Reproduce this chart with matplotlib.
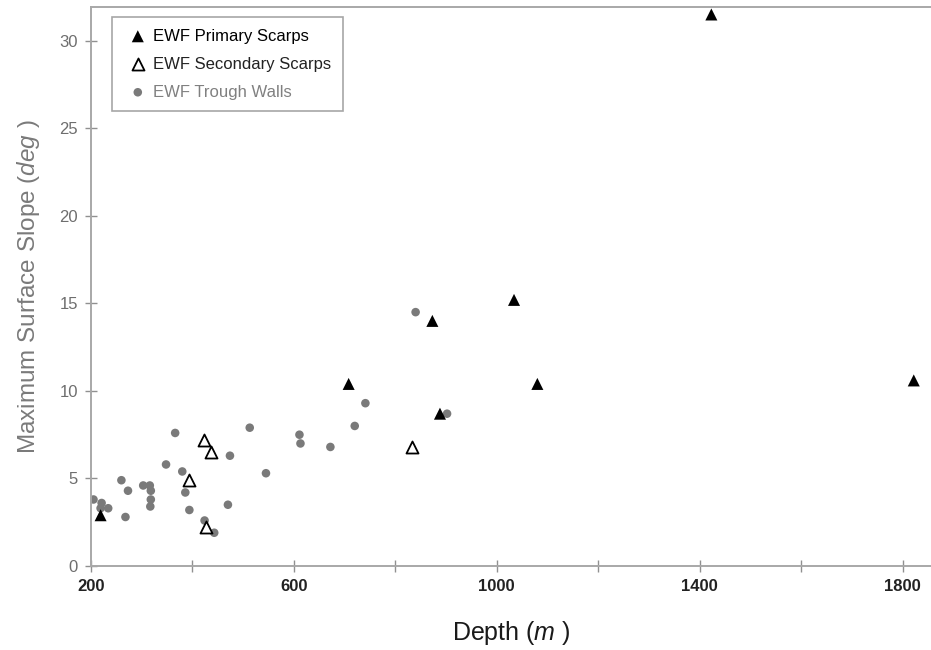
import matplotlib
matplotlib.use("Agg")
import matplotlib.pyplot as plt

plt.rcParams['font.family'] = ['Liberation Sans', 'DejaVu Sans']
plt.rcParams['mathtext.fontset'] = 'custom'
plt.rcParams['mathtext.rm'] = 'Liberation Sans'
plt.rcParams['mathtext.it'] = 'Liberation Sans:italic'

# EWF scarps and trough walls: depth (m) vs max surface slope (deg)
primary_depth = [219, 708, 873, 888, 1034, 1080, 1423, 1822]
primary_slope = [2.9, 10.4, 14.0, 8.7, 15.2, 10.4, 31.5, 10.6]

secondary_depth = [393, 422, 427, 436, 833]
secondary_slope = [4.9, 7.2, 2.2, 6.5, 6.8]

trough_depth = [205, 221, 219, 234, 268, 260, 273, 303, 316, 318, 318, 317,
                348, 366, 380, 386, 394, 424, 443, 470, 474, 513, 545, 611,
                613, 672, 720, 741, 840, 902]
trough_slope = [3.8, 3.6, 3.3, 3.3, 2.8, 4.9, 4.3, 4.6, 4.6, 4.3, 3.8, 3.4,
                5.8, 7.6, 5.4, 4.2, 3.2, 2.6, 1.9, 3.5, 6.3, 7.9, 5.3, 7.5,
                7.0, 6.8, 8.0, 9.3, 14.5, 8.7]

x_major = [200, 600, 1000, 1400, 1800]
x_minor = [400, 800, 1200, 1600]
y_major = [0, 5, 10, 15, 20, 25, 30]

fig = plt.figure(figsize=(9.31, 6.5), dpi=100)
ax = fig.add_axes([0.0977, 0.1292, 0.9023, 0.8593])

ax.scatter(trough_depth, trough_slope, s=38, color='#7a7a7a', edgecolors='none',
           label='EWF Trough Walls', zorder=2)
ax.scatter(secondary_depth, secondary_slope, s=75, marker='^', facecolors='white',
           edgecolors='black', linewidths=1.3, label='EWF Secondary Scarps', zorder=3)
ax.scatter(primary_depth, primary_slope, s=75, marker='^', color='black',
           edgecolors='none', label='EWF Primary Scarps', zorder=4)

ax.set_xlim(200, 1856)
ax.set_ylim(0, 31.9)
ax.set_xticks(x_major)
ax.set_xticks(x_minor, minor=True)
ax.set_yticks(y_major)

for side in ['left', 'bottom', 'top']:
    ax.spines[side].set_color('#a8a8a8')
    ax.spines[side].set_linewidth(1.4)
ax.spines['right'].set_visible(False)

ax.tick_params(axis='x', which='both', direction='inout', length=9, width=1,
               color='#909090', labelsize=12, labelcolor='#222222', pad=5)
ax.tick_params(axis='y', which='both', direction='inout', length=9, width=1,
               color='#909090', labelsize=12, labelcolor='#6e6e6e', pad=5)
for lab in ax.get_xticklabels():
    lab.set_fontweight('bold')

ax.set_xlabel(r'Depth ($\mathit{m}$ )', fontsize=18, color='#1a1a1a', labelpad=18)
ax.set_ylabel(r'Maximum Surface Slope ($\mathit{deg}$ )', fontsize=17.5,
              color='#7a7a7a', labelpad=12)

handles, labels = ax.get_legend_handles_labels()
order = [2, 1, 0]
leg = ax.legend([handles[i] for i in order], [labels[i] for i in order],
                loc='upper left', bbox_to_anchor=(0.025, 0.983), fontsize=12,
                frameon=True, fancybox=False, edgecolor='#909090',
                handletextpad=0.05, handlelength=1.7, borderpad=0.7,
                labelspacing=0.78, borderaxespad=0)
leg.get_frame().set_linewidth(1.2)
for txt, col in zip(leg.get_texts(), ['black', '#222222', '#808080']):
    txt.set_color(col)

fig.savefig('out.png', dpi=100)
